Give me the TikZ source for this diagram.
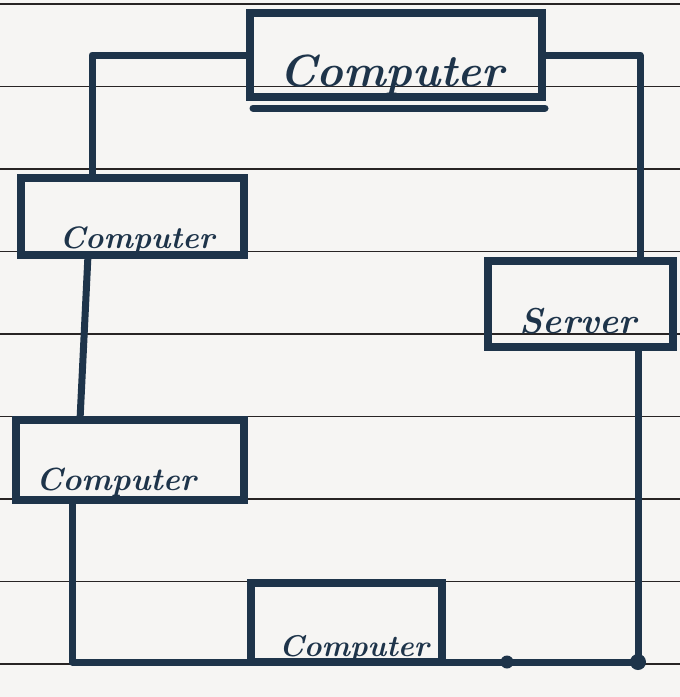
\documentclass[tikz,border=0pt]{standalone}
\usetikzlibrary{calc}
\definecolor{ink}{RGB}{30,52,74}
\definecolor{paper}{RGB}{246,245,243}
\definecolor{rule}{RGB}{40,36,36}
\begin{document}
\begin{tikzpicture}[x=1pt,y=-1pt,
  box/.style={draw=ink,line width=8pt,rectangle,inner sep=0pt,outer sep=0pt},
  wire/.style={draw=ink,line width=7pt,line cap=round,line join=round},
  lbl/.style={text=ink,anchor=base,inner sep=0pt},
  ruleline/.style={draw=rule,line width=1.8pt}]
\fill[paper] (0,0) rectangle (680,697);
\useasboundingbox (0,0) rectangle (680,697);
% ruled paper
\foreach \k in {0,...,8}{
  \draw[ruleline] (0,{4+82.5*\k}) -- (680,{4+82.5*\k});
}
% boxes
\node[box,minimum width=292pt,minimum height=84pt] (top) at (396,55) {};
\node[box,minimum width=223pt,minimum height=77pt] (l1) at (132.5,216.5) {};
\node[box,minimum width=185pt,minimum height=86pt] (srv) at (580.5,304) {};
\node[box,minimum width=228pt,minimum height=80pt] (l2) at (130,460) {};
\node[box,minimum width=191pt,minimum height=79pt] (bot) at (346.5,622.5) {};
% labels
\node[lbl,font=\fontsize{45}{47}\bfseries\itshape] (ttop) at (392,86) {Computer};
\node[lbl,font=\fontsize{31}{33}\bfseries\itshape] (tl1) at (137,248) {Computer};
\node[lbl,font=\fontsize{32}{34}\bfseries\itshape] (tl2) at (116,490) {Computer};
\node[lbl,font=\fontsize{30}{32}\bfseries\itshape] (tbot) at (354,656) {Computer};
\node[lbl,font=\fontsize{36}{38}\bfseries\itshape] (tsrv) at (578,333) {Server};
% double underline of the top box
\coordinate (u1) at (253,108);
\coordinate (u2) at (545,108);
\draw[wire] (u1) -- (u2);
% connectors
\coordinate (a1) at (92,55);
\draw[wire] (top.west) -- (a1) -- (a1 |- l1.north);
\coordinate (a2) at (640,55);
\draw[wire] (top.east) -- (a2) -- (a2 |- srv.north);
\draw[wire] ($(l1.south)+(-44.5,0)$) coordinate (b1) -- ($(l2.north)+(-50,0)$) coordinate (b2);
\coordinate (a3) at (72,662);
\draw[wire] (l2.south -| a3) -- (a3) -- (bot.south west);
\coordinate (a4) at (638,662);
\draw[wire] (bot.south east) -- (a4) -- (a4 |- srv.south);
% junction dots
\coordinate (d1) at (507,662);
\fill[ink] (d1) circle (6.5pt);
\fill[ink] (a4) circle (8pt);
\end{tikzpicture}
\end{document}
